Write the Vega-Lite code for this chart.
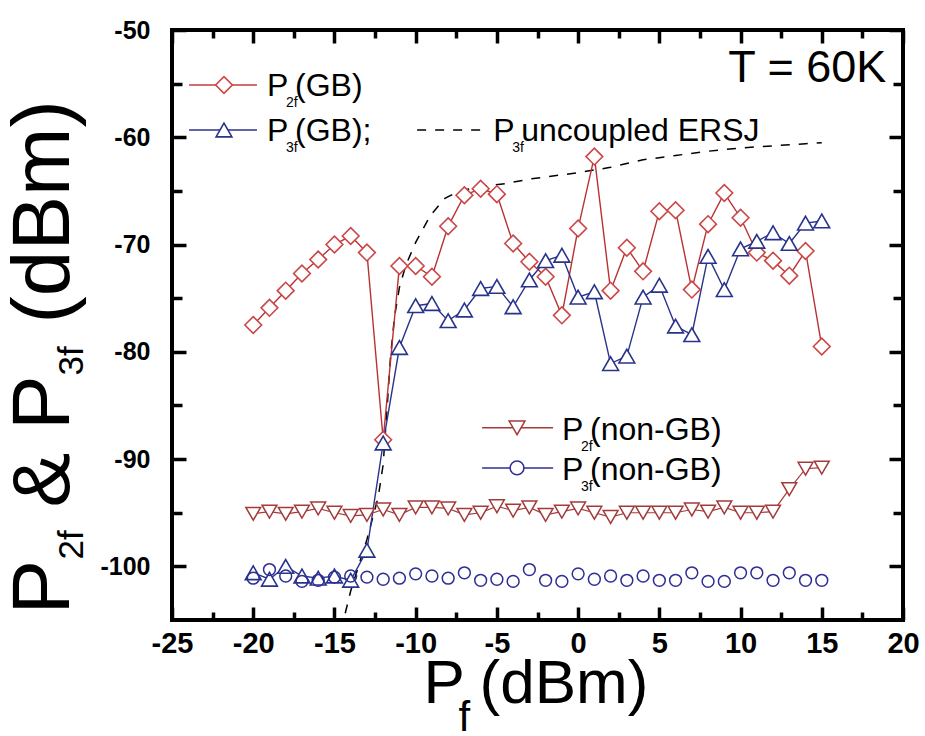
{
  "$schema": "https://vega.github.io/schema/vega-lite/v6.json",
  "width": 731,
  "height": 590,
  "autosize": {"type": "none"},
  "padding": {"left": 172, "top": 30, "right": 22, "bottom": 116},
  "background": "white",
  "config": {
    "view": {"stroke": "black", "strokeWidth": 4},
    "axis": {
      "grid": false, "domain": false, "tickColor": "black", "labelColor": "black", "titleColor": "black",
      "tickWidth": 3.5, "labelFlush": false, "labelOverlap": false, "labelBound": false, "zindex": 1,
      "titleFont": "Liberation Sans", "titleFontWeight": "normal", "titleAlign": "left", "titleBaseline": "alphabetic"
    }
  },
  "datasets": {
    "main": [
      {"s": "P2f(GB)", "x": -20, "y": -77.5}, {"s": "P2f(GB)", "x": -19, "y": -75.9}, {"s": "P2f(GB)", "x": -18, "y": -74.3},
      {"s": "P2f(GB)", "x": -17, "y": -72.7}, {"s": "P2f(GB)", "x": -16, "y": -71.4}, {"s": "P2f(GB)", "x": -15, "y": -70.0},
      {"s": "P2f(GB)", "x": -14, "y": -69.2}, {"s": "P2f(GB)", "x": -13, "y": -70.75}, {"s": "P2f(GB)", "x": -12, "y": -88.2},
      {"s": "P2f(GB)", "x": -11, "y": -72.0}, {"s": "P2f(GB)", "x": -10, "y": -72.0}, {"s": "P2f(GB)", "x": -9, "y": -73.0},
      {"s": "P2f(GB)", "x": -8, "y": -68.3}, {"s": "P2f(GB)", "x": -7, "y": -65.4}, {"s": "P2f(GB)", "x": -6, "y": -64.8},
      {"s": "P2f(GB)", "x": -5, "y": -65.3}, {"s": "P2f(GB)", "x": -4, "y": -69.9}, {"s": "P2f(GB)", "x": -3, "y": -71.6},
      {"s": "P2f(GB)", "x": -2, "y": -73.0}, {"s": "P2f(GB)", "x": -1, "y": -76.6}, {"s": "P2f(GB)", "x": 0, "y": -68.5},
      {"s": "P2f(GB)", "x": 1, "y": -61.8}, {"s": "P2f(GB)", "x": 2, "y": -74.3}, {"s": "P2f(GB)", "x": 3, "y": -70.3},
      {"s": "P2f(GB)", "x": 4, "y": -72.5}, {"s": "P2f(GB)", "x": 5, "y": -66.9}, {"s": "P2f(GB)", "x": 6, "y": -66.8},
      {"s": "P2f(GB)", "x": 7, "y": -74.2}, {"s": "P2f(GB)", "x": 8, "y": -68.1}, {"s": "P2f(GB)", "x": 9, "y": -65.2},
      {"s": "P2f(GB)", "x": 10, "y": -67.5}, {"s": "P2f(GB)", "x": 11, "y": -70.75}, {"s": "P2f(GB)", "x": 12, "y": -71.5},
      {"s": "P2f(GB)", "x": 13, "y": -72.9}, {"s": "P2f(GB)", "x": 14, "y": -70.6}, {"s": "P2f(GB)", "x": 15, "y": -79.5},

      {"s": "P3f(GB)", "x": -20, "y": -100.6}, {"s": "P3f(GB)", "x": -19, "y": -101.2}, {"s": "P3f(GB)", "x": -18, "y": -100.0},
      {"s": "P3f(GB)", "x": -17, "y": -100.9}, {"s": "P3f(GB)", "x": -16, "y": -101.1}, {"s": "P3f(GB)", "x": -15, "y": -100.9},
      {"s": "P3f(GB)", "x": -14, "y": -101.3}, {"s": "P3f(GB)", "x": -13, "y": -98.5}, {"s": "P3f(GB)", "x": -12, "y": -88.5},
      {"s": "P3f(GB)", "x": -11, "y": -79.6}, {"s": "P3f(GB)", "x": -10, "y": -75.7}, {"s": "P3f(GB)", "x": -9, "y": -75.5},
      {"s": "P3f(GB)", "x": -8, "y": -77.1}, {"s": "P3f(GB)", "x": -7, "y": -76.1}, {"s": "P3f(GB)", "x": -6, "y": -74.1},
      {"s": "P3f(GB)", "x": -5, "y": -73.9}, {"s": "P3f(GB)", "x": -4, "y": -75.8}, {"s": "P3f(GB)", "x": -3, "y": -73.3},
      {"s": "P3f(GB)", "x": -2, "y": -71.5}, {"s": "P3f(GB)", "x": -1, "y": -71.0}, {"s": "P3f(GB)", "x": 0, "y": -74.9},
      {"s": "P3f(GB)", "x": 1, "y": -74.4}, {"s": "P3f(GB)", "x": 2, "y": -81.1}, {"s": "P3f(GB)", "x": 3, "y": -80.4},
      {"s": "P3f(GB)", "x": 4, "y": -74.9}, {"s": "P3f(GB)", "x": 5, "y": -73.8}, {"s": "P3f(GB)", "x": 6, "y": -77.6},
      {"s": "P3f(GB)", "x": 7, "y": -78.4}, {"s": "P3f(GB)", "x": 8, "y": -71.1}, {"s": "P3f(GB)", "x": 9, "y": -74.2},
      {"s": "P3f(GB)", "x": 10, "y": -70.4}, {"s": "P3f(GB)", "x": 11, "y": -69.7}, {"s": "P3f(GB)", "x": 12, "y": -68.9},
      {"s": "P3f(GB)", "x": 13, "y": -69.9}, {"s": "P3f(GB)", "x": 14, "y": -68.0}, {"s": "P3f(GB)", "x": 15, "y": -67.8},

      {"s": "uncoupled", "x": -14.6, "y": -106}, {"s": "uncoupled", "x": -14.0, "y": -102.3}, {"s": "uncoupled", "x": -13.0, "y": -97.5},
      {"s": "uncoupled", "x": -12.3, "y": -93.5}, {"s": "uncoupled", "x": -12.0, "y": -90.5}, {"s": "uncoupled", "x": -11.75, "y": -85.0},
      {"s": "uncoupled", "x": -11.55, "y": -80.5}, {"s": "uncoupled", "x": -11.3, "y": -76.7}, {"s": "uncoupled", "x": -11.0, "y": -74.0},
      {"s": "uncoupled", "x": -10.6, "y": -71.9}, {"s": "uncoupled", "x": -10.0, "y": -69.8}, {"s": "uncoupled", "x": -9.1, "y": -67.3},
      {"s": "uncoupled", "x": -8.2, "y": -65.7}, {"s": "uncoupled", "x": -7.3, "y": -65.0}, {"s": "uncoupled", "x": -6.0, "y": -64.6},
      {"s": "uncoupled", "x": -4.4, "y": -64.3}, {"s": "uncoupled", "x": -3.0, "y": -63.9}, {"s": "uncoupled", "x": -1.0, "y": -63.5},
      {"s": "uncoupled", "x": 0.0, "y": -63.3}, {"s": "uncoupled", "x": 2.0, "y": -62.8}, {"s": "uncoupled", "x": 4.0, "y": -62.1},
      {"s": "uncoupled", "x": 6.0, "y": -61.7}, {"s": "uncoupled", "x": 8.0, "y": -61.3}, {"s": "uncoupled", "x": 10.0, "y": -61.0},
      {"s": "uncoupled", "x": 12.0, "y": -60.8}, {"s": "uncoupled", "x": 14.0, "y": -60.6}, {"s": "uncoupled", "x": 15.0, "y": -60.5},

      {"s": "P2f(non-GB)", "x": -20, "y": -95.1}, {"s": "P2f(non-GB)", "x": -19, "y": -94.9}, {"s": "P2f(non-GB)", "x": -18, "y": -95.1},
      {"s": "P2f(non-GB)", "x": -17, "y": -94.9}, {"s": "P2f(non-GB)", "x": -16, "y": -94.6}, {"s": "P2f(non-GB)", "x": -15, "y": -95.0},
      {"s": "P2f(non-GB)", "x": -14, "y": -95.3}, {"s": "P2f(non-GB)", "x": -13, "y": -95.2}, {"s": "P2f(non-GB)", "x": -12, "y": -94.7},
      {"s": "P2f(non-GB)", "x": -11, "y": -95.2}, {"s": "P2f(non-GB)", "x": -10, "y": -94.5}, {"s": "P2f(non-GB)", "x": -9, "y": -94.5},
      {"s": "P2f(non-GB)", "x": -8, "y": -94.6}, {"s": "P2f(non-GB)", "x": -7, "y": -95.2}, {"s": "P2f(non-GB)", "x": -6, "y": -95.0},
      {"s": "P2f(non-GB)", "x": -5, "y": -94.4}, {"s": "P2f(non-GB)", "x": -4, "y": -94.8}, {"s": "P2f(non-GB)", "x": -3, "y": -94.5},
      {"s": "P2f(non-GB)", "x": -2, "y": -95.2}, {"s": "P2f(non-GB)", "x": -1, "y": -94.9}, {"s": "P2f(non-GB)", "x": 0, "y": -94.6},
      {"s": "P2f(non-GB)", "x": 1, "y": -95.0}, {"s": "P2f(non-GB)", "x": 2, "y": -95.4}, {"s": "P2f(non-GB)", "x": 3, "y": -95.0},
      {"s": "P2f(non-GB)", "x": 4, "y": -95.0}, {"s": "P2f(non-GB)", "x": 5, "y": -95.0}, {"s": "P2f(non-GB)", "x": 6, "y": -95.0},
      {"s": "P2f(non-GB)", "x": 7, "y": -94.7}, {"s": "P2f(non-GB)", "x": 8, "y": -94.9}, {"s": "P2f(non-GB)", "x": 9, "y": -94.5},
      {"s": "P2f(non-GB)", "x": 10, "y": -95.0}, {"s": "P2f(non-GB)", "x": 11, "y": -95.0}, {"s": "P2f(non-GB)", "x": 12, "y": -94.9},
      {"s": "P2f(non-GB)", "x": 13, "y": -92.8}, {"s": "P2f(non-GB)", "x": 14, "y": -90.9}, {"s": "P2f(non-GB)", "x": 15, "y": -90.8},

      {"s": "P3f(non-GB)", "x": -20, "y": -101.1}, {"s": "P3f(non-GB)", "x": -19, "y": -100.3}, {"s": "P3f(non-GB)", "x": -18, "y": -100.9},
      {"s": "P3f(non-GB)", "x": -17, "y": -101.4}, {"s": "P3f(non-GB)", "x": -16, "y": -101.3}, {"s": "P3f(non-GB)", "x": -15, "y": -101.0},
      {"s": "P3f(non-GB)", "x": -14, "y": -100.9}, {"s": "P3f(non-GB)", "x": -13, "y": -101.0}, {"s": "P3f(non-GB)", "x": -12, "y": -101.2},
      {"s": "P3f(non-GB)", "x": -11, "y": -101.1}, {"s": "P3f(non-GB)", "x": -10, "y": -100.7}, {"s": "P3f(non-GB)", "x": -9, "y": -100.9},
      {"s": "P3f(non-GB)", "x": -8, "y": -101.1}, {"s": "P3f(non-GB)", "x": -7, "y": -100.6}, {"s": "P3f(non-GB)", "x": -6, "y": -101.3},
      {"s": "P3f(non-GB)", "x": -5, "y": -101.2}, {"s": "P3f(non-GB)", "x": -4, "y": -101.4}, {"s": "P3f(non-GB)", "x": -3, "y": -100.3},
      {"s": "P3f(non-GB)", "x": -2, "y": -101.3}, {"s": "P3f(non-GB)", "x": -1, "y": -101.4}, {"s": "P3f(non-GB)", "x": 0, "y": -100.7},
      {"s": "P3f(non-GB)", "x": 1, "y": -101.2}, {"s": "P3f(non-GB)", "x": 2, "y": -100.9}, {"s": "P3f(non-GB)", "x": 3, "y": -101.3},
      {"s": "P3f(non-GB)", "x": 4, "y": -100.9}, {"s": "P3f(non-GB)", "x": 5, "y": -101.3}, {"s": "P3f(non-GB)", "x": 6, "y": -101.3},
      {"s": "P3f(non-GB)", "x": 7, "y": -100.6}, {"s": "P3f(non-GB)", "x": 8, "y": -101.4}, {"s": "P3f(non-GB)", "x": 9, "y": -101.4},
      {"s": "P3f(non-GB)", "x": 10, "y": -100.6}, {"s": "P3f(non-GB)", "x": 11, "y": -100.6}, {"s": "P3f(non-GB)", "x": 12, "y": -101.3},
      {"s": "P3f(non-GB)", "x": 13, "y": -100.6}, {"s": "P3f(non-GB)", "x": 14, "y": -101.3}, {"s": "P3f(non-GB)", "x": 15, "y": -101.3}
    ],
    "legend": [
      {"s": "P2f(GB)", "main": "P", "sub": "2f", "rest": "(GB)", "lx0": -23.95, "lx1": -19.77, "sx": -21.8, "ly": -55.13, "tx": -19.15, "ty": -56.15},
      {"s": "P3f(GB)", "main": "P", "sub": "3f", "rest": "(GB);", "lx0": -23.95, "lx1": -19.77, "sx": -21.8, "ly": -59.32, "tx": -19.15, "ty": -60.34},
      {"s": "uncoupled", "main": "P", "sub": "3f", "rest": "\u00a0\u00a0uncoupled ERSJ", "lx0": -9.91, "lx1": -5.85, "ly": -59.32, "tx": -5.23, "ty": -60.34},
      {"s": "P2f(non-GB)", "main": "P", "sub": "2f", "rest": "(non-GB)", "lx0": -5.91, "lx1": -1.54, "sx": -3.76, "ly": -87.09, "tx": -0.99, "ty": -88.21},
      {"s": "P3f(non-GB)", "main": "P", "sub": "3f", "rest": "(non-GB)", "lx0": -5.91, "lx1": -1.54, "sx": -3.76, "ly": -90.82, "tx": -0.99, "ty": -91.94}
    ],
    "notes": [
      {"label": "T = 60K", "x": 9.24, "y": -54.85}
    ]
  },
  "layer": [
    {
      "data": {"name": "main"},
      "transform": [{"filter": "datum.s === 'uncoupled'"}],
      "mark": {"type": "line", "stroke": "black", "strokeWidth": 1.5, "strokeDash": [9, 9], "clip": true},
      "encoding": {
        "x": {"field": "x", "type": "quantitative", "scale": {"domain": [-25, 20], "nice": false, "zero": false},
          "axis": {"orient": "bottom", "values": [-25, -20, -15, -10, -5, 0, 5, 10, 15, 20], "tickSize": -13,
            "labelExpr": "'' + datum.value",
            "labelFont": "Liberation Sans", "labelFontWeight": "bold", "labelFontSize": 29, "labelPadding": 22,
            "title": "P", "titleFontSize": 62, "titleX": 251, "titleY": 82, "titleAngle": 0}},
        "y": {"field": "y", "type": "quantitative", "scale": {"domain": [-105, -50], "nice": false, "zero": false},
          "axis": {"orient": "left", "values": [-50, -60, -70, -80, -90, -100], "tickSize": -14,
            "labelExpr": "'' + datum.value",
            "labelFont": "Liberation Sans", "labelFontWeight": "bold", "labelFontSize": 25, "labelPadding": 36,
            "title": "P", "titleFontSize": 82, "titleX": -104, "titleY": 584, "titleAngle": 270}}
      }
    },
    {
      "data": {"name": "main"},
      "transform": [{"filter": "datum.s === 'P2f(GB)'"}],
      "mark": {"type": "line", "stroke": "#b83232", "strokeWidth": 1.4},
      "encoding": {
        "x": {"field": "x", "type": "quantitative", "scale": {"domain": [-25, 20], "nice": false, "zero": false},
          "axis": {"orient": "bottom", "values": [-22.5, -17.5, -12.5, -7.5, -2.5, 2.5, 7.5, 12.5, 17.5], "tickSize": -8, "labels": false,
            "title": "(dBm)", "titleFontSize": 62, "titleX": 307, "titleY": 82, "titleAngle": 0}},
        "y": {"field": "y", "type": "quantitative", "scale": {"domain": [-105, -50], "nice": false, "zero": false},
          "axis": {"orient": "left", "values": [-55, -65, -75, -85, -95], "tickSize": -10, "labels": false,
            "title": "2f", "titleFontSize": 35, "titleX": -90, "titleY": 529, "titleAngle": 270}}
      }
    },
    {
      "data": {"name": "main"},
      "transform": [{"filter": "datum.s === 'P3f(GB)'"}],
      "mark": {"type": "line", "stroke": "#28338c", "strokeWidth": 1.4},
      "encoding": {
        "x": {"field": "x", "type": "quantitative", "scale": {"domain": [-25, 20], "nice": false, "zero": false},
          "axis": {"orient": "top", "values": [-25, -20, -15, -10, -5, 0, 5, 10, 15, 20], "tickSize": -13, "labels": false,
            "title": "f", "titleFontSize": 42, "titleX": 286, "titleY": 700, "titleAngle": 0}},
        "y": {"field": "y", "type": "quantitative", "scale": {"domain": [-105, -50], "nice": false, "zero": false},
          "axis": {"orient": "right", "values": [-50, -60, -70, -80, -90, -100], "tickSize": -14, "labels": false,
            "title": "& P", "titleFontSize": 82, "titleX": -835, "titleY": 477, "titleAngle": 270}}
      }
    },
    {
      "data": {"name": "main"},
      "transform": [{"filter": "datum.s === 'P2f(non-GB)'"}],
      "mark": {"type": "line", "stroke": "#a33a3a", "strokeWidth": 1.2},
      "encoding": {
        "x": {"field": "x", "type": "quantitative", "scale": {"domain": [-25, 20], "nice": false, "zero": false},
          "axis": {"orient": "top", "values": [-22.5, -17.5, -12.5, -7.5, -2.5, 2.5, 7.5, 12.5, 17.5], "tickSize": -8, "labels": false, "title": null}},
        "y": {"field": "y", "type": "quantitative", "scale": {"domain": [-105, -50], "nice": false, "zero": false},
          "axis": {"orient": "right", "values": [-55, -65, -75, -85, -95], "tickSize": -10, "labels": false,
            "title": "3f", "titleFontSize": 35, "titleX": -821, "titleY": 345, "titleAngle": 270}}
      }
    },
    {
      "data": {"name": "main"},
      "transform": [{"filter": "datum.s === 'P2f(GB)'"}],
      "mark": {"type": "point", "shape": "diamond", "size": 280, "filled": false, "fill": "white", "fillOpacity": 1, "stroke": "#cc4646", "strokeWidth": 1.6, "opacity": 1},
      "encoding": {
        "x": {"field": "x", "type": "quantitative", "scale": {"domain": [-25, 20], "nice": false, "zero": false}, "axis": null},
        "y": {"field": "y", "type": "quantitative", "scale": {"domain": [-105, -50], "nice": false, "zero": false},
          "axis": {"orient": "left", "ticks": false, "labels": false,
            "title": "(dBm)", "titleFontSize": 82, "titleX": -104, "titleY": 293, "titleAngle": 270}}
      }
    },
    {
      "data": {"name": "main"},
      "transform": [{"filter": "datum.s === 'P3f(GB)'"}],
      "mark": {"type": "point", "shape": "triangle-up", "size": 250, "filled": false, "fill": "white", "fillOpacity": 1, "stroke": "#28338c", "strokeWidth": 1.6, "opacity": 1},
      "encoding": {
        "x": {"field": "x", "type": "quantitative", "scale": {"domain": [-25, 20], "nice": false, "zero": false}, "axis": null},
        "y": {"field": "y", "type": "quantitative", "scale": {"domain": [-105, -50], "nice": false, "zero": false}, "axis": null}
      }
    },
    {
      "data": {"name": "main"},
      "transform": [{"filter": "datum.s === 'P2f(non-GB)'"}],
      "mark": {"type": "point", "shape": "triangle-down", "size": 220, "filled": false, "fill": "white", "fillOpacity": 1, "stroke": "#a33a3a", "strokeWidth": 1.5, "opacity": 1},
      "encoding": {
        "x": {"field": "x", "type": "quantitative", "scale": {"domain": [-25, 20], "nice": false, "zero": false}, "axis": null},
        "y": {"field": "y", "type": "quantitative", "scale": {"domain": [-105, -50], "nice": false, "zero": false}, "axis": null}
      }
    },
    {
      "data": {"name": "main"},
      "transform": [{"filter": "datum.s === 'P3f(non-GB)'"}],
      "mark": {"type": "point", "shape": "circle", "size": 140, "filled": false, "stroke": "#2e2e96", "strokeWidth": 1.5, "opacity": 1},
      "encoding": {
        "x": {"field": "x", "type": "quantitative", "scale": {"domain": [-25, 20], "nice": false, "zero": false}, "axis": null},
        "y": {"field": "y", "type": "quantitative", "scale": {"domain": [-105, -50], "nice": false, "zero": false}, "axis": null}
      }
    },
    {
      "data": {"name": "legend"},
      "transform": [{"filter": "datum.s !== 'uncoupled'"}],
      "mark": {"type": "rule", "strokeWidth": 1.5},
      "encoding": {
        "x": {"field": "lx0", "type": "quantitative", "scale": {"domain": [-25, 20], "nice": false, "zero": false}, "axis": null},
        "x2": {"field": "lx1"},
        "y": {"field": "ly", "type": "quantitative", "scale": {"domain": [-105, -50], "nice": false, "zero": false}, "axis": null},
        "color": {"field": "s", "type": "nominal", "legend": null,
          "scale": {"domain": ["P2f(GB)", "P3f(GB)", "uncoupled", "P2f(non-GB)", "P3f(non-GB)"], "range": ["#c43c3c", "#28338c", "#000000", "#a33a3a", "#2e2e96"]}}
      }
    },
    {
      "data": {"name": "legend"},
      "transform": [{"filter": "datum.s === 'uncoupled'"}],
      "mark": {"type": "rule", "strokeWidth": 1.5, "stroke": "black", "strokeDash": [9, 9]},
      "encoding": {
        "x": {"field": "lx0", "type": "quantitative", "scale": {"domain": [-25, 20], "nice": false, "zero": false}, "axis": null},
        "x2": {"field": "lx1"},
        "y": {"field": "ly", "type": "quantitative", "scale": {"domain": [-105, -50], "nice": false, "zero": false}, "axis": null}
      }
    },
    {
      "data": {"name": "legend"},
      "transform": [{"filter": "datum.s === 'P2f(GB)'"}],
      "mark": {"type": "point", "shape": "diamond", "size": 280, "filled": false, "fill": "white", "fillOpacity": 1, "stroke": "#cc4646", "strokeWidth": 1.6, "opacity": 1},
      "encoding": {
        "x": {"field": "sx", "type": "quantitative", "scale": {"domain": [-25, 20], "nice": false, "zero": false}, "axis": null},
        "y": {"field": "ly", "type": "quantitative", "scale": {"domain": [-105, -50], "nice": false, "zero": false}, "axis": null}
      }
    },
    {
      "data": {"name": "legend"},
      "transform": [{"filter": "datum.s === 'P3f(GB)'"}],
      "mark": {"type": "point", "shape": "triangle-up", "size": 250, "filled": false, "fill": "white", "fillOpacity": 1, "stroke": "#28338c", "strokeWidth": 1.6, "opacity": 1},
      "encoding": {
        "x": {"field": "sx", "type": "quantitative", "scale": {"domain": [-25, 20], "nice": false, "zero": false}, "axis": null},
        "y": {"field": "ly", "type": "quantitative", "scale": {"domain": [-105, -50], "nice": false, "zero": false}, "axis": null}
      }
    },
    {
      "data": {"name": "legend"},
      "transform": [{"filter": "datum.s === 'P2f(non-GB)'"}],
      "mark": {"type": "point", "shape": "triangle-down", "size": 250, "filled": false, "fill": "white", "fillOpacity": 1, "stroke": "#a33a3a", "strokeWidth": 1.5, "opacity": 1},
      "encoding": {
        "x": {"field": "sx", "type": "quantitative", "scale": {"domain": [-25, 20], "nice": false, "zero": false}, "axis": null},
        "y": {"field": "ly", "type": "quantitative", "scale": {"domain": [-105, -50], "nice": false, "zero": false}, "axis": null}
      }
    },
    {
      "data": {"name": "legend"},
      "transform": [{"filter": "datum.s === 'P3f(non-GB)'"}],
      "mark": {"type": "point", "shape": "circle", "size": 190, "filled": false, "fill": "white", "fillOpacity": 1, "stroke": "#2e2e96", "strokeWidth": 1.5, "opacity": 1},
      "encoding": {
        "x": {"field": "sx", "type": "quantitative", "scale": {"domain": [-25, 20], "nice": false, "zero": false}, "axis": null},
        "y": {"field": "ly", "type": "quantitative", "scale": {"domain": [-105, -50], "nice": false, "zero": false}, "axis": null}
      }
    },
    {
      "data": {"name": "legend"},
      "mark": {"type": "text", "font": "Liberation Sans", "fontSize": 32, "align": "left", "baseline": "alphabetic", "color": "black"},
      "encoding": {
        "x": {"field": "tx", "type": "quantitative", "scale": {"domain": [-25, 20], "nice": false, "zero": false}, "axis": null},
        "y": {"field": "ty", "type": "quantitative", "scale": {"domain": [-105, -50], "nice": false, "zero": false}, "axis": null},
        "text": {"field": "main"}
      }
    },
    {
      "data": {"name": "legend"},
      "mark": {"type": "text", "font": "Liberation Sans", "fontSize": 14, "align": "left", "baseline": "alphabetic", "color": "black", "dx": 19, "dy": 11},
      "encoding": {
        "x": {"field": "tx", "type": "quantitative", "scale": {"domain": [-25, 20], "nice": false, "zero": false}, "axis": null},
        "y": {"field": "ty", "type": "quantitative", "scale": {"domain": [-105, -50], "nice": false, "zero": false}, "axis": null},
        "text": {"field": "sub"}
      }
    },
    {
      "data": {"name": "legend"},
      "mark": {"type": "text", "font": "Liberation Sans", "fontSize": 32, "align": "left", "baseline": "alphabetic", "color": "black", "dx": 28},
      "encoding": {
        "x": {"field": "tx", "type": "quantitative", "scale": {"domain": [-25, 20], "nice": false, "zero": false}, "axis": null},
        "y": {"field": "ty", "type": "quantitative", "scale": {"domain": [-105, -50], "nice": false, "zero": false}, "axis": null},
        "text": {"field": "rest"}
      }
    },
    {
      "data": {"name": "notes"},
      "mark": {"type": "text", "font": "Liberation Sans", "fontSize": 45, "align": "left", "baseline": "alphabetic", "color": "black"},
      "encoding": {
        "x": {"field": "x", "type": "quantitative", "scale": {"domain": [-25, 20], "nice": false, "zero": false}, "axis": null},
        "y": {"field": "y", "type": "quantitative", "scale": {"domain": [-105, -50], "nice": false, "zero": false}, "axis": null},
        "text": {"field": "label"}
      }
    }
  ],
  "resolve": {"axis": {"x": "independent", "y": "independent"}}
}
